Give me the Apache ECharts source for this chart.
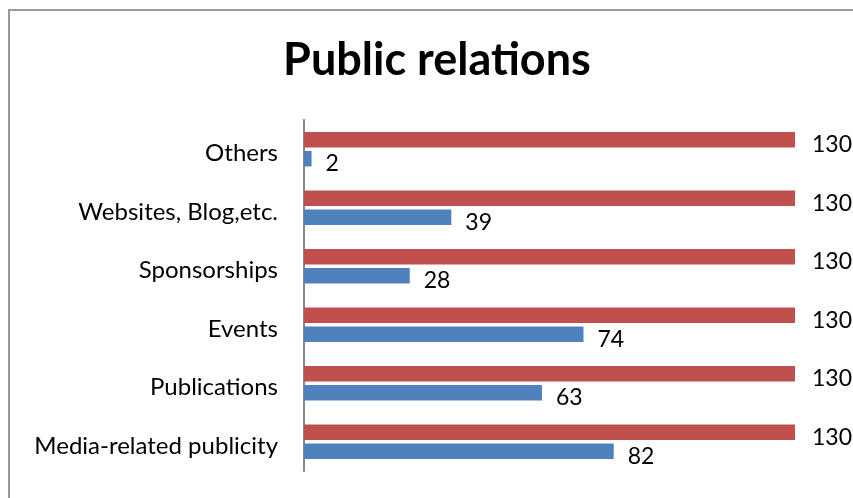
<!DOCTYPE html>
<html>
<head>
<meta charset="utf-8">
<script src="https://cdn.jsdelivr.net/npm/echarts@6/dist/echarts.min.js"></script>
<style>
  html, body { margin: 0; padding: 0; background: #fff; }
  #chart { width: 853px; height: 498px; }
</style>
</head>
<body>
<div id="chart"></div>
<script>
// Categories listed bottom to top
const categories = [
  'Media-related publicity',
  'Publications',
  'Events',
  'Sponsorships',
  'Websites, Blog,etc.',
  'Others'
];
const totalValues = [130, 130, 130, 130, 130, 130];
const usedValues = [82, 63, 74, 28, 39, 2];

const font = 'Lato, "Open Sans", sans-serif';

const chart = echarts.init(document.getElementById('chart'), null, { renderer: 'canvas' });
chart.setOption({
  animation: false,
  backgroundColor: '#ffffff',
  title: {
    text: 'Public relations',
    left: 432,
    textAlign: 'center',
    top: 33,
    textStyle: { fontFamily: font, fontWeight: 'bold', fontSize: 45, color: '#000' }
  },
  graphic: [{
    type: 'rect',
    shape: { x: 9, y: 10, width: 900, height: 600 },
    style: { fill: 'none', stroke: '#999999', lineWidth: 2 },
    silent: true
  }],
  grid: { left: 304, right: 58, top: 120, bottom: 27, containLabel: false },
  xAxis: {
    type: 'value',
    min: 0,
    max: 130,
    show: false
  },
  yAxis: {
    type: 'category',
    data: categories,
    axisLine: { show: true, lineStyle: { color: '#888888', width: 2 } },
    axisTick: { show: false },
    axisLabel: {
      margin: 26,
      formatter: '{c|{value}}',
      rich: {
        c: { fontFamily: font, fontSize: 24, color: '#000', padding: [9, 0, 0, 0] }
      }
    }
  },
  series: [
    {
      type: 'bar',
      data: totalValues,
      barWidth: 15.5,
      barGap: '22%',
      itemStyle: { color: '#C0504D' },
      label: { show: true, position: 'right', distance: 17, fontFamily: font, fontSize: 23, color: '#000', offset: [0, 5] }
    },
    {
      type: 'bar',
      data: usedValues,
      barWidth: 15.5,
      itemStyle: { color: '#4F81BD' },
      label: { show: true, position: 'right', distance: 14, fontFamily: font, fontSize: 23, color: '#000', offset: [0, 5] }
    }
  ]
});
</script>
</body>
</html>
